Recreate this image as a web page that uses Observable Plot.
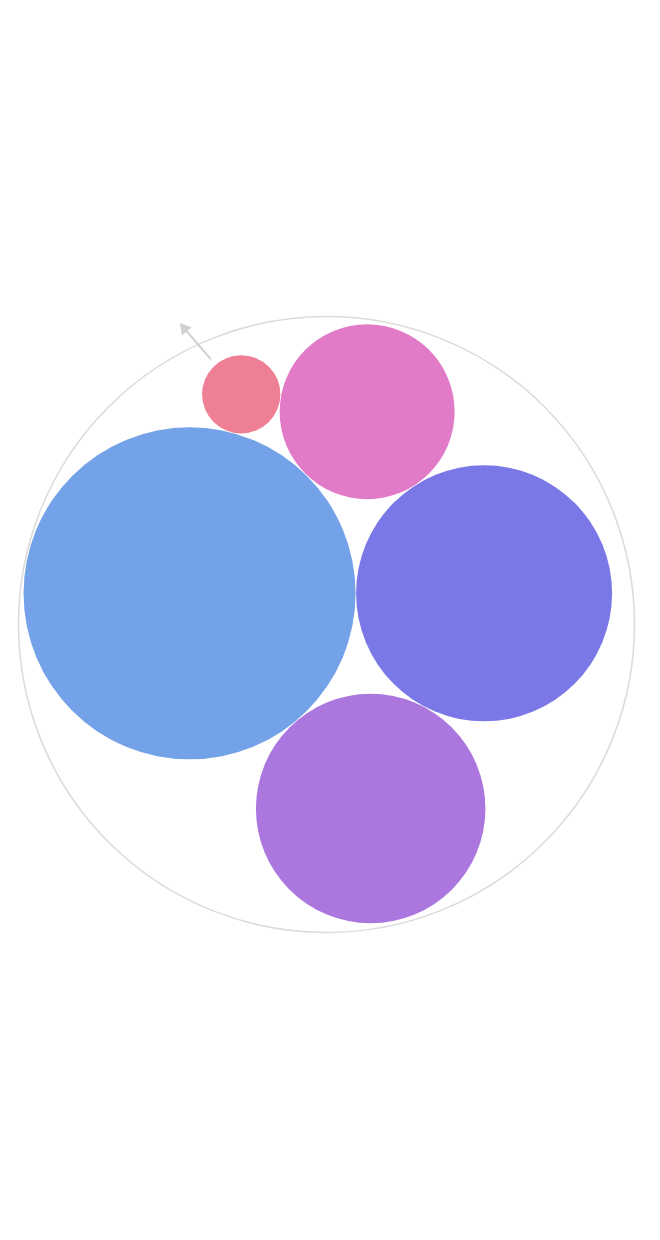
<!DOCTYPE html>
<html>
<head>
<meta charset="utf-8">
<script src="https://cdn.jsdelivr.net/npm/d3@7"></script>
<script src="https://cdn.jsdelivr.net/npm/@observablehq/plot@0.6"></script>
<style>
  html, body { margin: 0; padding: 0; background: #fff; }
  #chart svg { display: block; }
</style>
</head>
<body>
<div id="chart"></div>
<script>
// Data
const names  = ["A", "B", "C", "D", "E"];
const values = [36, 21.4, 17.2, 10, 2];
const colors = ["#74a2e8", "#7a78e6", "#ab77de", "#e27bc7", "#ee7f94"];

const W = 660, H = 1240;
const packSize = 610;
const cx = 326, cy = 624;
const shiftX = -2;

const root = d3.hierarchy({children: names.map((n, i) => ({name: n, value: values[i], color: colors[i]}))})
  .sum(d => d.value || 0)
  .sort((a, b) => b.value - a.value);
d3.pack().size([packSize, packSize]).padding(0.5)(root);

const ox = cx - packSize / 2, oy = cy - packSize / 2;
const leaves = root.leaves().map(d => ({name: d.data.name, color: d.data.color, x: d.x + ox + shiftX, y: d.y + oy, r: d.r}));
const outer = [{x: root.x + ox, y: root.y + oy, r: root.r + 3}];

// zoom-out arrow, placed next to the smallest circle
const small = leaves.find(d => d.name === "E");
const ang = Math.atan2(-37, -32);
const ux = Math.cos(ang), uy = Math.sin(ang);
const r0 = small.r + 7, r1 = small.r + 55;
const headLen = 11;
const tip = {x: small.x + ux * r1, y: small.y + uy * r1};
const arrowLine = [{x1: small.x + ux * r0, y1: small.y + uy * r0, x2: tip.x - ux * (headLen - 2), y2: tip.y - uy * (headLen - 2)}];
const side = headLen * 2 / Math.sqrt(3); // equilateral side for given height
const triR = Math.sqrt((side * side * Math.sqrt(3) / 4) / Math.PI);
const arrowHead = [{x: tip.x - ux * (side / Math.sqrt(3)), y: tip.y - uy * (side / Math.sqrt(3)), rot: (Math.atan2(ux, -uy) * 180 / Math.PI)}];

const chart = Plot.plot({
  width: W,
  height: H,
  margin: 0,
  x: {type: "identity", axis: null},
  y: {type: "identity", axis: null},
  r: {type: "identity"},
  marks: [
    Plot.dot(outer, {x: "x", y: "y", r: "r", fill: "none", stroke: "#dcdcdc", strokeWidth: 1.6}),
    Plot.dot(leaves, {x: "x", y: "y", r: "r", fill: "color", stroke: "none"}),
    Plot.link(arrowLine, {x1: "x1", y1: "y1", x2: "x2", y2: "y2", stroke: "#cfcfcf", strokeWidth: 2}),
    Plot.dot(arrowHead, {x: "x", y: "y", r: triR, symbol: "triangle", rotate: "rot", fill: "#cfcfcf", stroke: "none"})
  ]
});
document.getElementById("chart").appendChild(chart);
</script>
</body>
</html>
